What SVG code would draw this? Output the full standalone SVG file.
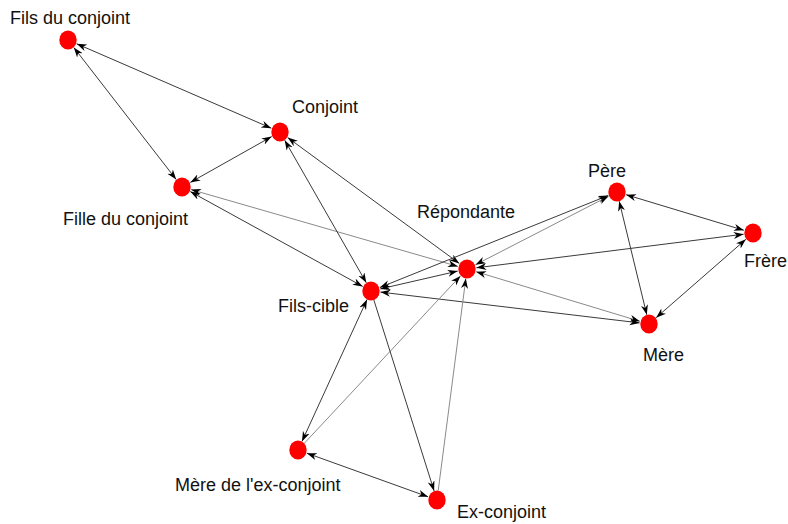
<svg xmlns="http://www.w3.org/2000/svg" width="788" height="524" viewBox="0 0 788 524">
<style>
.e{stroke:#3a3a3a;stroke-width:1;fill:none;marker-end:url(#ah)}
.b{marker-start:url(#ah)}
.l{stroke:#8a8a8a}
.n{fill:#ff0000}
text{font-family:"Liberation Sans",Arial,sans-serif;font-size:18px;fill:#111}
</style>
<defs>
<marker id="ah" markerUnits="userSpaceOnUse" markerWidth="11" markerHeight="8" refX="10" refY="3.5" orient="auto-start-reverse" viewBox="0 0 11 8">
<path d="M0,0 L10,3.5 L0,7 L3,3.5 z" fill="#000"/>
</marker>
</defs>
<rect width="788" height="524" fill="#fff"/>
<g id="connectors">
<line class="e b" x1="76.7" y1="43.8" x2="271.3" y2="128.2"/>
<line class="e b" x1="73.8" y1="47.5" x2="176.2" y2="179.5"/>
<line class="e b" x1="190.3" y1="182.4" x2="271.7" y2="136.6"/>
<line class="e b l" x1="191.1" y1="189.6" x2="457.9" y2="266.4"/>
<line class="e b" x1="190.3" y1="191.6" x2="362.7" y2="286.4"/>
<line class="e b" x1="284.7" y1="140.2" x2="366.3" y2="282.8"/>
<line class="e b" x1="287.7" y1="137.6" x2="459.3" y2="263.4"/>
<line class="e b" x1="380.3" y1="288.9" x2="457.7" y2="271.1"/>
<line class="e b" x1="379.8" y1="287.5" x2="608.2" y2="195.5"/>
<line class="e b l" x1="475.5" y1="264.7" x2="608.5" y2="196.3"/>
<line class="e b" x1="476.4" y1="267.8" x2="743.6" y2="234.2"/>
<line class="e b l" x1="476.1" y1="271.7" x2="639.9" y2="321.3"/>
<line class="e b" x1="380.4" y1="292.1" x2="639.6" y2="322.9"/>
<line class="e b" x1="626.1" y1="194.7" x2="743.9" y2="230.3"/>
<line class="e b" x1="619.2" y1="201.2" x2="646.8" y2="314.8"/>
<line class="e b" x1="745.9" y1="239.3" x2="656.1" y2="317.7"/>
<line class="e b" x1="367.0" y1="299.6" x2="302.0" y2="441.4"/>
<line class="e l" x1="304.5" y1="443.1" x2="460.5" y2="275.9"/>
<line class="e" x1="373.9" y1="300.1" x2="434.1" y2="490.9"/>
<line class="e l" x1="438.2" y1="490.6" x2="465.8" y2="278.6"/>
<line class="e b" x1="306.9" y1="453.2" x2="428.1" y2="496.8"/>
</g>
<g id="n-fils-du-conjoint"><ellipse class="n" cx="68" cy="40" rx="8.7" ry="9.5"/><text x="10" y="24">Fils du conjoint</text></g>
<g id="n-conjoint"><ellipse class="n" cx="280" cy="132" rx="8.7" ry="9.5"/><text x="292" y="113">Conjoint</text></g>
<g id="n-fille-du-conjoint"><ellipse class="n" cx="182" cy="187" rx="8.7" ry="9.5"/><text x="63" y="225">Fille du conjoint</text></g>
<g id="n-repondante"><ellipse class="n" cx="467" cy="269" rx="8.7" ry="9.5"/><text x="417" y="218">Répondante</text></g>
<g id="n-fils-cible"><ellipse class="n" cx="371" cy="291" rx="8.7" ry="9.5"/><text x="278" y="312">Fils-cible</text></g>
<g id="n-pere"><ellipse class="n" cx="617" cy="192" rx="8.7" ry="9.5"/><text x="588" y="177">Père</text></g>
<g id="n-frere"><ellipse class="n" cx="753" cy="233" rx="8.7" ry="9.5"/><text x="744" y="267">Frère</text></g>
<g id="n-mere"><ellipse class="n" cx="649" cy="324" rx="8.7" ry="9.5"/><text x="643" y="361">Mère</text></g>
<g id="n-mere-ex-conjoint"><ellipse class="n" cx="298" cy="450" rx="8.7" ry="9.5"/><text x="175" y="491">Mère de l'ex-conjoint</text></g>
<g id="n-ex-conjoint"><ellipse class="n" cx="437" cy="500" rx="8.7" ry="9.5"/><text x="457" y="518">Ex-conjoint</text></g>
</svg>
